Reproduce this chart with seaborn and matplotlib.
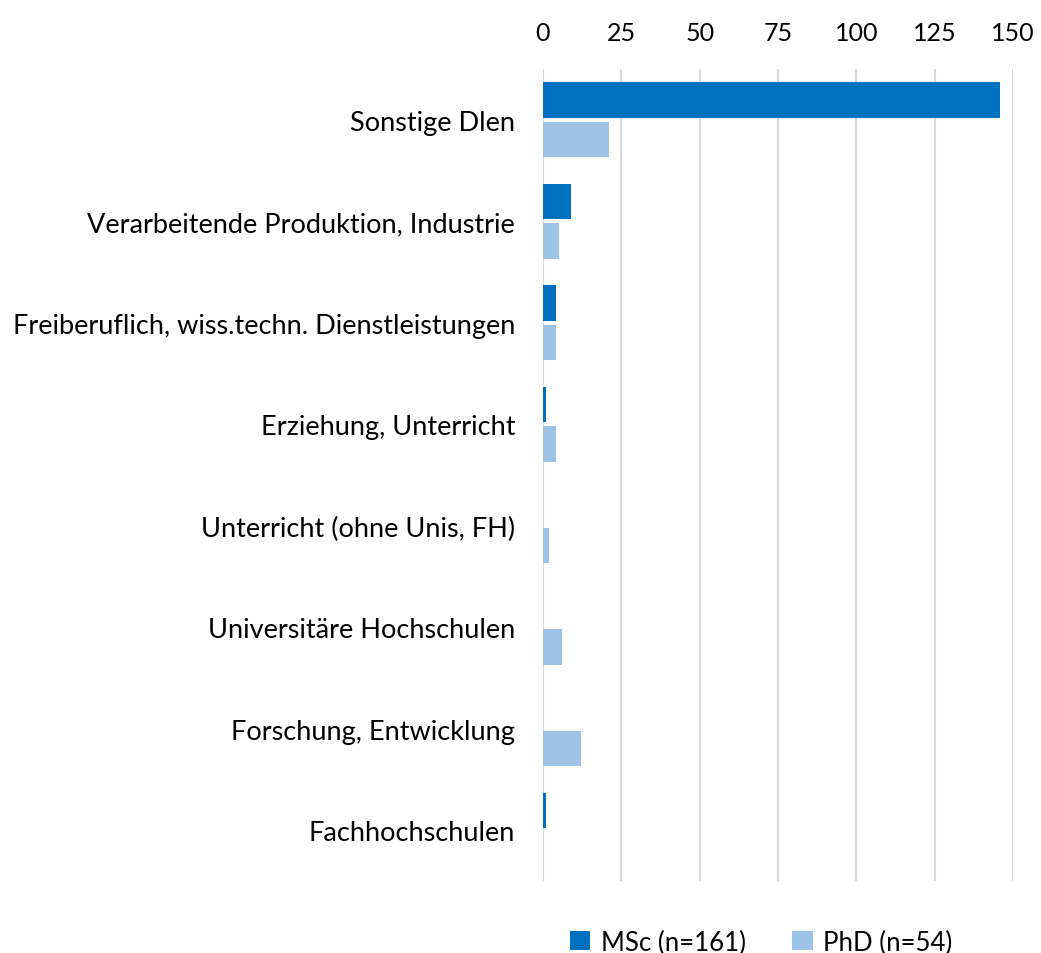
import pandas as pd
import matplotlib
matplotlib.use("Agg")
import matplotlib.pyplot as plt
import seaborn as sns

# Data
categories = [
    "Sonstige Dlen",
    "Verarbeitende Produktion, Industrie",
    "Freiberuflich, wiss.techn. Dienstleistungen",
    "Erziehung, Unterricht",
    "Unterricht (ohne Unis, FH)",
    "Universitäre Hochschulen",
    "Forschung, Entwicklung",
    "Fachhochschulen",
]
msc_values = [146, 9, 4, 1, 0, 0, 0, 1]
phd_values = [21, 5, 4, 4, 2, 6, 12, 0]
series_names = ["MSc (n=161)", "PhD (n=54)"]
x_ticks = [0, 25, 50, 75, 100, 125, 150]

df = pd.DataFrame({
    "Kategorie": categories * 2,
    "Wert": msc_values + phd_values,
    "Gruppe": [series_names[0]] * len(categories) + [series_names[1]] * len(categories),
})

sns.set_style("white")
plt.rcParams['font.family'] = ['Lato', 'DejaVu Sans']
plt.rcParams['text.color'] = 'black'

fig = plt.figure(figsize=(10.41, 9.54), dpi=100)
ax = fig.add_axes([0.5216, 0.0755, 0.4515, 0.851])

sns.barplot(
    data=df, x="Wert", y="Kategorie", hue="Gruppe",
    order=categories, hue_order=series_names,
    palette=["#0070C0", "#9DC3E6"], saturation=1,
    width=0.78, gap=0.1, linewidth=0, ax=ax, orient="h",
)

ax.set_xlim(0, 150)
ax.set_xticks(x_ticks)
ax.xaxis.tick_top()
ax.tick_params(axis='x', length=0, labelsize=18, pad=18, labelcolor='black')
ax.tick_params(axis='y', length=0, labelsize=19.5, pad=20, labelcolor='black')
ax.set_xlabel("")
ax.set_ylabel("")
ax.grid(True, axis='x', color='#D9D9D9', linewidth=1.5)
ax.set_axisbelow(True)
for side in ['top', 'right', 'bottom', 'left']:
    ax.spines[side].set_visible(False)

handles, labels = ax.get_legend_handles_labels()
ax.get_legend().remove()
fig.legend(handles, labels, loc='center', bbox_to_anchor=(0.731, 0.0115),
           ncol=2, frameon=False, fontsize=18.5, handlelength=0.8, handleheight=0.8,
           columnspacing=1.8, handletextpad=0.4, labelcolor='black')

fig.savefig("out.png", dpi=100)
